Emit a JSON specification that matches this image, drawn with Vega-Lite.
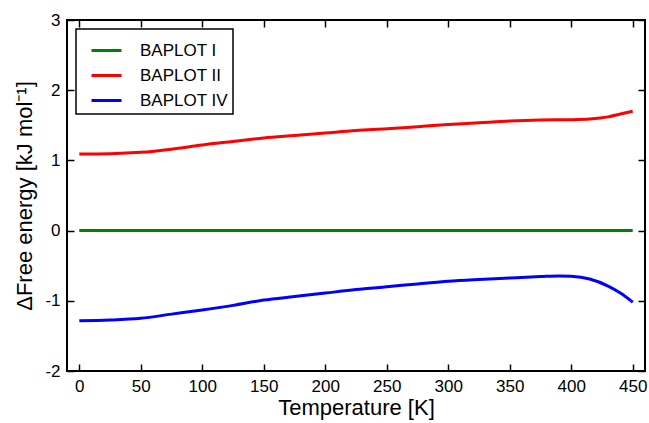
{
  "$schema": "https://vega.github.io/schema/vega-lite/v6.json",
  "width": 578,
  "height": 351,
  "autosize": {"type": "none"},
  "padding": {"left": 67, "top": 20, "right": 4, "bottom": 52},
  "background": "white",
  "config": {
    "font": "Liberation Sans",
    "view": {"stroke": "black", "strokeWidth": 2},
    "axis": {"grid": false, "domain": false, "zindex": 1, "offset": -7, "ticks": true, "tickColor": "black", "tickOpacity": 1, "tickSize": 7, "tickWidth": 1.5, "labelColor": "black", "titleColor": "black", "labelFont": "Liberation Sans", "titleFont": "Liberation Sans", "labelFontSize": 17, "titleFontSize": 22, "titleFontWeight": "normal"}
  },
  "datasets": {
    "curves": [
      {"T": 0, "dG": 0, "series": "BAPLOT I"},
      {"T": 450, "dG": 0, "series": "BAPLOT I"},
      {"T": 0, "dG": 1.09, "series": "BAPLOT II"},
      {"T": 25, "dG": 1.095, "series": "BAPLOT II"},
      {"T": 50, "dG": 1.115, "series": "BAPLOT II"},
      {"T": 75, "dG": 1.16, "series": "BAPLOT II"},
      {"T": 100, "dG": 1.22, "series": "BAPLOT II"},
      {"T": 125, "dG": 1.27, "series": "BAPLOT II"},
      {"T": 150, "dG": 1.32, "series": "BAPLOT II"},
      {"T": 175, "dG": 1.355, "series": "BAPLOT II"},
      {"T": 200, "dG": 1.39, "series": "BAPLOT II"},
      {"T": 225, "dG": 1.425, "series": "BAPLOT II"},
      {"T": 250, "dG": 1.45, "series": "BAPLOT II"},
      {"T": 275, "dG": 1.48, "series": "BAPLOT II"},
      {"T": 300, "dG": 1.51, "series": "BAPLOT II"},
      {"T": 325, "dG": 1.535, "series": "BAPLOT II"},
      {"T": 350, "dG": 1.56, "series": "BAPLOT II"},
      {"T": 375, "dG": 1.575, "series": "BAPLOT II"},
      {"T": 400, "dG": 1.58, "series": "BAPLOT II"},
      {"T": 415, "dG": 1.59, "series": "BAPLOT II"},
      {"T": 430, "dG": 1.62, "series": "BAPLOT II"},
      {"T": 440, "dG": 1.66, "series": "BAPLOT II"},
      {"T": 450, "dG": 1.70, "series": "BAPLOT II"},
      {"T": 0, "dG": -1.285, "series": "BAPLOT IV"},
      {"T": 25, "dG": -1.275, "series": "BAPLOT IV"},
      {"T": 50, "dG": -1.25, "series": "BAPLOT IV"},
      {"T": 75, "dG": -1.19, "series": "BAPLOT IV"},
      {"T": 100, "dG": -1.13, "series": "BAPLOT IV"},
      {"T": 125, "dG": -1.065, "series": "BAPLOT IV"},
      {"T": 150, "dG": -0.99, "series": "BAPLOT IV"},
      {"T": 175, "dG": -0.94, "series": "BAPLOT IV"},
      {"T": 200, "dG": -0.89, "series": "BAPLOT IV"},
      {"T": 225, "dG": -0.84, "series": "BAPLOT IV"},
      {"T": 250, "dG": -0.80, "series": "BAPLOT IV"},
      {"T": 275, "dG": -0.76, "series": "BAPLOT IV"},
      {"T": 300, "dG": -0.72, "series": "BAPLOT IV"},
      {"T": 325, "dG": -0.695, "series": "BAPLOT IV"},
      {"T": 350, "dG": -0.675, "series": "BAPLOT IV"},
      {"T": 375, "dG": -0.655, "series": "BAPLOT IV"},
      {"T": 390, "dG": -0.645, "series": "BAPLOT IV"},
      {"T": 400, "dG": -0.65, "series": "BAPLOT IV"},
      {"T": 415, "dG": -0.69, "series": "BAPLOT IV"},
      {"T": 430, "dG": -0.79, "series": "BAPLOT IV"},
      {"T": 440, "dG": -0.89, "series": "BAPLOT IV"},
      {"T": 450, "dG": -1.02, "series": "BAPLOT IV"}
    ]
  },
  "data": {"name": "curves"},
  "resolve": {"axis": {"x": "independent", "y": "independent"}},
  "layer": [
    {
      "mark": {"type": "line", "strokeWidth": 3, "interpolate": "monotone"},
      "encoding": {
        "x": {"field": "T", "type": "quantitative", "scale": {"domain": [-10, 460], "nice": false, "zero": false},
          "axis": {"orient": "bottom", "title": "Temperature [K]", "values": [0, 50, 100, 150, 200, 250, 300, 350, 400, 450], "labelPadding": 7, "titlePadding": 3, "labelFlush": false}},
        "y": {"field": "dG", "type": "quantitative", "scale": {"domain": [-2, 3], "nice": false, "zero": false},
          "axis": {"orient": "left", "title": "ΔFree energy [kJ mol⁻¹]", "values": [-2, -1, 0, 1, 2, 3], "labelPadding": 7, "titlePadding": 8, "labelFlush": false,
            "labelExpr": "datum.value < 0 ? '-' + abs(datum.value) : '' + datum.value"}},
        "color": {"field": "series", "type": "nominal",
          "scale": {"domain": ["BAPLOT I", "BAPLOT II", "BAPLOT IV"], "range": ["#008000", "#ff0000", "#0000ff"]},
          "legend": {"title": null, "orient": "none", "legendX": 9, "legendY": 9, "symbolType": "stroke", "symbolSize": 900, "symbolStrokeWidth": 3, "symbolOffset": 9,
            "labelFontSize": 17, "labelFont": "Liberation Sans", "labelColor": "black", "labelOffset": 17, "rowPadding": -3, "padding": 5,
            "strokeColor": "black", "fillColor": "white",
            "encode": {"legend": {"update": {"strokeWidth": {"value": 1.5}}}}}}
      }
    },
    {
      "mark": {"type": "line", "strokeOpacity": 0},
      "encoding": {
        "x": {"field": "T", "type": "quantitative", "axis": {"orient": "top", "title": null, "labels": false, "ticks": true, "values": [0, 50, 100, 150, 200, 250, 300, 350, 400, 450]}},
        "y": {"field": "dG", "type": "quantitative", "axis": {"orient": "right", "title": null, "labels": false, "ticks": true, "values": [-2, -1, 0, 1, 2, 3]}},
        "detail": {"field": "series"}
      }
    }
  ]
}
